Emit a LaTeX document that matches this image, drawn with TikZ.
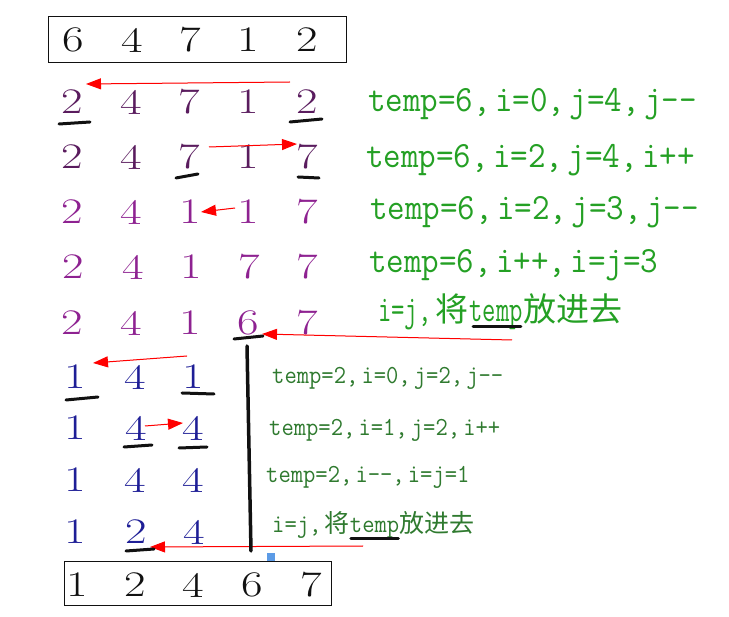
\documentclass[tikz,border=0pt]{standalone}
\usepackage{fontspec}
\newfontfamily\digitfont[FakeStretch=1.3]{Latin Modern Roman}
\newfontfamily\notefont[FakeStretch=0.92]{Latin Modern Mono}
\newfontfamily\narrowfont[FakeStretch=0.7]{Latin Modern Mono}
\newfontfamily\cjk{Noto Sans CJK SC}
\usetikzlibrary{arrows.meta,positioning}
\definecolor{ink}{HTML}{111111}
\definecolor{plumdark}{HTML}{5A1C5E}
\definecolor{plum}{HTML}{8E2291}
\definecolor{navy}{HTML}{1E1E96}
\definecolor{leaf}{HTML}{24A024}
\definecolor{moss}{HTML}{2F7A2F}
\definecolor{pointer}{HTML}{FF0000}
\definecolor{handle}{HTML}{5C9BE6}
\newcommand{\fc}{,\kern0.12em}
\newcommand{\han}[2]{{\cjk\fontsize{#1}{#1}\selectfont #2}}
\tikzset{
  digit/.style={inner sep=0pt, font=\digitfont\fontsize{36}{36}\selectfont},
  frame/.style={draw=ink, line width=0.9pt, inner sep=0pt},
  move/.style={-{Triangle[length=15pt,width=11pt]}, draw=pointer, fill=pointer, line width=1pt},
  uline/.style={draw=ink, line width=3pt, line cap=round},
  split/.style={draw=ink, line width=3.5pt, line cap=round},
  note/.style={anchor=base west, inner sep=0pt, text=leaf,
    font=\notefont\fontsize{37}{37}\selectfont},
  narrownote/.style={note, font=\narrowfont\fontsize{37}{37}\selectfont},
  subnote/.style={note, text=moss, font=\notefont\fontsize{26}{26}\selectfont}
}
\begin{document}
\begin{tikzpicture}[x=1pt,y=-1pt]
  \useasboundingbox (0,0) rectangle (729,617);

  % input array
  \node[frame, minimum width=298pt, minimum height=46pt] (input) at (197,39) {};
  \foreach \v/\x [count=\c] in {6/73,4/132,7/190,1/248,2/307}
    \node[digit, text=ink] (r0c\c) at (\x,40) {\v};

  % first pass, temp=6
  \foreach \v/\x [count=\c] in {2/72,4/131,7/189,1/248,2/307}
    \node[digit, text=plumdark] (r1c\c) at (\x,102) {\v};
  \foreach \v/\x [count=\c] in {2/72,4/131,7/189,1/248,7/307}
    \node[digit, text=plumdark] (r2c\c) at (\x,157) {\v};
  \foreach \v/\x [count=\c] in {2/72,4/131,1/190,1/248,7/307}
    \node[digit, text=plum] (r3c\c) at (\x,212) {\v};
  \foreach \v/\x [count=\c] in {2/73,4/133,1/191,7/249,7/307}
    \node[digit, text=plum] (r4c\c) at (\x,267) {\v};
  \foreach \v/\x [count=\c] in {2/72,4/131,1/190,6/248,7/307}
    \node[digit, text=plum] (r5c\c) at (\x,323) {\v};

  % second pass, temp=2
  \foreach \v/\x [count=\c] in {1/75,4/135,1/193}
    \node[digit, text=navy] (r6c\c) at (\x,377) {\v};
  \foreach \v/\x [count=\c] in {1/75,4/136,4/193}
    \node[digit, text=navy] (r7c\c) at (\x,428) {\v};
  \foreach \v/\x [count=\c] in {1/75,4/135,4/193}
    \node[digit, text=navy] (r8c\c) at (\x,480) {\v};
  \foreach \v/\x [count=\c] in {1/75,2/136,4/194}
    \node[digit, text=navy] (r9c\c) at (\x,532) {\v};

  % sorted array
  \node[frame, minimum width=267pt, minimum height=44pt] (output) at (197.5,583) {};
  \foreach \v/\x [count=\c] in {1/77,2/135,4/193,6/252,7/311}
    \node[digit, text=ink] (r10c\c) at (\x,585) {\v};

  % moves
  \coordinate (tail5) at (512,340);
  \coordinate (tail9) at (363,546);
  \draw[move] ([shift={(-17,-20)}]r1c5.center) -- ([shift={(14,-18)}]r1c1.center);
  \draw[move] ([shift={(20,-10)}]r2c3.center) -- ([shift={(-10,-13)}]r2c5.center);
  \draw[move] ([shift={(-13,-4)}]r3c4.center) -- ([shift={(11,0)}]r3c3.center);
  \draw[move] (tail5) -- ([shift={(14,11)}]r5c4.center);
  \draw[move] ([shift={(-6,-21)}]r6c3.center) -- ([shift={(18,-14)}]r6c1.center);
  \draw[move] ([shift={(9,-2)}]r7c2.center) -- ([shift={(-10,-5)}]r7c3.center);
  \draw[move] (tail9) -- ([shift={(14,15)}]r9c2.center);

  % i and j markers
  \draw[uline] ([shift={(-13,22)}]r1c1.center) -- ([shift={(18,20)}]r1c1.center);
  \draw[uline] ([shift={(-17,20)}]r1c5.center) -- ([shift={(15,17)}]r1c5.center);
  \draw[uline] ([shift={(-13,21)}]r2c3.center) -- ([shift={(9,17)}]r2c3.center);
  \draw[uline] ([shift={(-9,20)}]r2c5.center) -- ([shift={(12,21)}]r2c5.center);
  \draw[uline] ([shift={(-14,16)}]r5c4.center) -- ([shift={(15,13)}]r5c4.center);
  \draw[uline] ([shift={(-9,23)}]r6c1.center) -- ([shift={(23,20)}]r6c1.center);
  \draw[uline] ([shift={(-11,16)}]r6c3.center) -- ([shift={(21,17)}]r6c3.center);
  \draw[uline] ([shift={(-12,19)}]r7c2.center) -- ([shift={(16,17)}]r7c2.center);
  \draw[uline] ([shift={(-14,20)}]r7c3.center) -- ([shift={(14,19)}]r7c3.center);
  \draw[uline] ([shift={(-10,19)}]r9c2.center) -- ([shift={(18,17)}]r9c2.center);

  % pivot position 6 stays
  \draw[split] ([shift={(-1,23)}]r5c4.center) -- ([shift={(-1,-34)}]r10c4.center);
  \node[fill=handle, inner sep=0pt, minimum size=8pt] (cursor) at (271,557) {};

  % steps
  \node[note] (s1) at (368,112) {temp=6\fc i=0\fc j=4\fc j-{}-};
  \node[note] (s2) at (366,168) {temp=6\fc i=2\fc j=4\fc i++};
  \node[note] (s3) at (370,220) {temp=6\fc i=2\fc j=3\fc j-{}-};
  \node[note] (s4) at (369,273) {temp=6\fc i++\fc i=j=3};
  \node[narrownote] (s5) at (378,322) {i=j\fc\han{33}{将}};
  \node[narrownote] (s5t) at (s5.base east) {temp};
  \node[narrownote] (s5e) at (s5t.base east) {\han{33}{放进去}};
  \draw[uline] ([shift={(4,5)}]s5t.base west) -- ([shift={(-2,5)}]s5t.base east);

  \node[subnote] (s6) at (272,384) {temp=2\fc i=0\fc j=2\fc j-{}-};
  \node[subnote] (s7) at (269,436) {temp=2\fc i=1\fc j=2\fc i++};
  \node[subnote] (s8) at (266,483) {temp=2\fc i-{}-\fc i=j=1};
  \node[subnote] (s9) at (272,533) {i=j\fc\han{25}{将}};
  \node[subnote] (s9t) at (s9.base east) {temp};
  \node[subnote] (s9e) at (s9t.base east) {\han{25}{放进去}};
  \draw[uline] ([shift={(1,6)}]s9t.base west) -- ([shift={(-1,6)}]s9t.base east);
\end{tikzpicture}
\end{document}
